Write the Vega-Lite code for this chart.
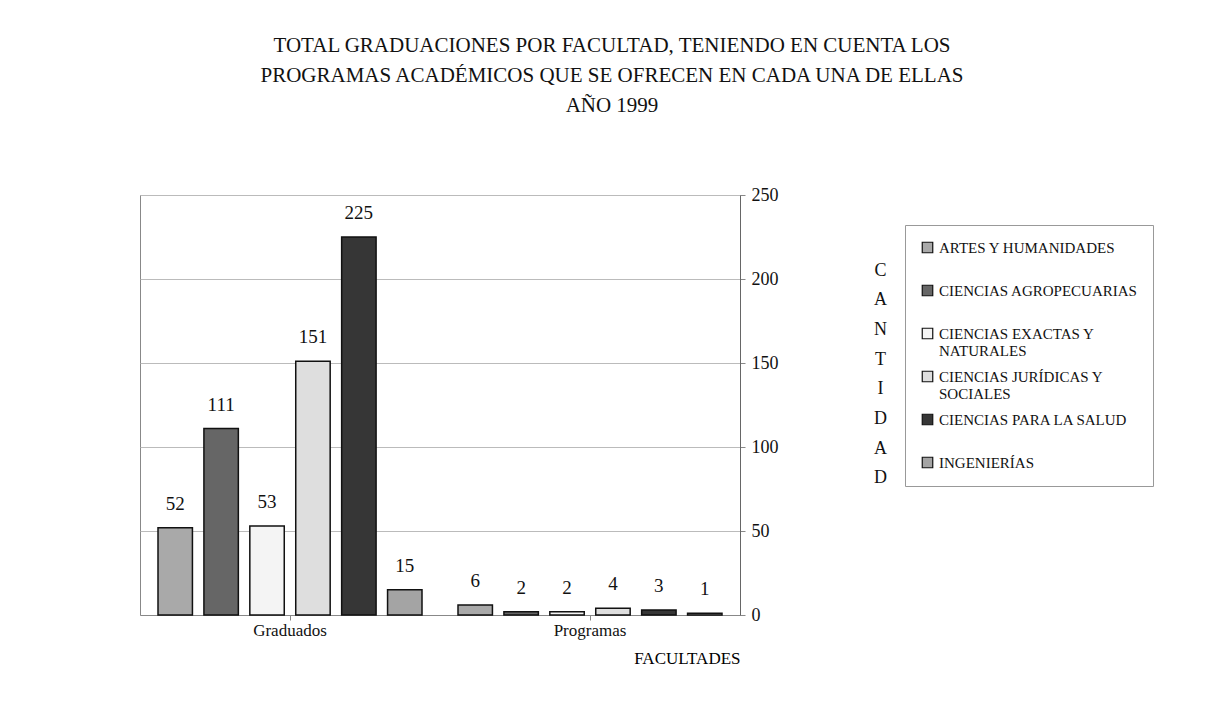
{
  "$schema": "https://vega.github.io/schema/vega-lite/v6.json",
  "autosize": "none",
  "width": 600,
  "height": 420,
  "padding": {"left": 140, "top": 195, "right": 469, "bottom": 93},
  "background": "white",
  "config": {
    "font": "Liberation Serif",
    "view": {"stroke": "#888", "strokeWidth": 1}
  },
  "title": {
    "text": ["TOTAL GRADUACIONES POR FACULTAD, TENIENDO EN CUENTA LOS", "PROGRAMAS ACADÉMICOS QUE SE OFRECEN EN CADA UNA DE ELLAS", "AÑO 1999"],
    "font": "Liberation Serif",
    "fontSize": 21,
    "fontWeight": "normal",
    "lineHeight": 30,
    "offset": 70,
    "dx": 172,
    "color": "#111"
  },
  "data": {
    "values": [
      {"Facultad": "ARTES Y HUMANIDADES", "Serie": "Graduados", "Cantidad": 52},
      {"Facultad": "CIENCIAS AGROPECUARIAS", "Serie": "Graduados", "Cantidad": 111},
      {"Facultad": "CIENCIAS EXACTAS Y NATURALES", "Serie": "Graduados", "Cantidad": 53},
      {"Facultad": "CIENCIAS JURÍDICAS Y SOCIALES", "Serie": "Graduados", "Cantidad": 151},
      {"Facultad": "CIENCIAS PARA LA SALUD", "Serie": "Graduados", "Cantidad": 225},
      {"Facultad": "INGENIERÍAS", "Serie": "Graduados", "Cantidad": 15},
      {"Facultad": "ARTES Y HUMANIDADES", "Serie": "Programas", "Cantidad": 6},
      {"Facultad": "CIENCIAS AGROPECUARIAS", "Serie": "Programas", "Cantidad": 2},
      {"Facultad": "CIENCIAS EXACTAS Y NATURALES", "Serie": "Programas", "Cantidad": 2},
      {"Facultad": "CIENCIAS JURÍDICAS Y SOCIALES", "Serie": "Programas", "Cantidad": 4},
      {"Facultad": "CIENCIAS PARA LA SALUD", "Serie": "Programas", "Cantidad": 3},
      {"Facultad": "INGENIERÍAS", "Serie": "Programas", "Cantidad": 1}
    ]
  },
  "encoding": {
    "x": {
      "field": "Serie",
      "type": "nominal",
      "sort": ["Graduados", "Programas"],
      "scale": {"paddingInner": 0.12, "paddingOuter": 0.06},
      "axis": {
        "title": "FACULTADES",
        "titleFont": "Liberation Serif",
        "titleFontSize": 17,
        "titleFontWeight": "normal",
        "titleAnchor": "end",
        "titlePadding": 12,
        "labelAngle": 0,
        "labelFont": "Liberation Serif",
        "labelFontSize": 17,
        "labelColor": "#111",
        "domainColor": "#888",
        "tickColor": "#888"
      }
    },
    "xOffset": {
      "field": "Facultad",
      "type": "nominal",
      "sort": ["ARTES Y HUMANIDADES", "CIENCIAS AGROPECUARIAS", "CIENCIAS EXACTAS Y NATURALES", "CIENCIAS JURÍDICAS Y SOCIALES", "CIENCIAS PARA LA SALUD", "INGENIERÍAS"],
      "scale": {"paddingInner": 0.25}
    },
    "y": {
      "field": "Cantidad",
      "type": "quantitative",
      "scale": {"domain": [0, 250]},
      "axis": {
        "orient": "right",
        "values": [0, 50, 100, 150, 200, 250],
        "grid": true,
        "gridColor": "#bbb",
        "domainColor": "#666",
        "tickColor": "#888",
        "labelFont": "Liberation Serif",
        "labelFontSize": 18,
        "labelColor": "#111",
        "labelPadding": 6,
        "title": ["C", "A", "N", "T", "I", "D", "A", "D"],
        "titleAngle": 0,
        "titleFont": "Liberation Serif",
        "titleFontSize": 18,
        "titleFontWeight": "normal",
        "titleLineHeight": 29.7,
        "titleAlign": "center",
        "titleBaseline": "middle",
        "titleX": 140,
        "titleY": 75,
        "titleColor": "#111"
      }
    }
  },
  "layer": [
    {
      "mark": {"type": "bar", "stroke": "#111", "strokeWidth": 1.5},
      "encoding": {
        "color": {
          "field": "Facultad",
          "type": "nominal",
          "sort": ["ARTES Y HUMANIDADES", "CIENCIAS AGROPECUARIAS", "CIENCIAS EXACTAS Y NATURALES", "CIENCIAS JURÍDICAS Y SOCIALES", "CIENCIAS PARA LA SALUD", "INGENIERÍAS"],
          "scale": {
            "domain": ["ARTES Y HUMANIDADES", "CIENCIAS AGROPECUARIAS", "CIENCIAS EXACTAS Y NATURALES", "CIENCIAS JURÍDICAS Y SOCIALES", "CIENCIAS PARA LA SALUD", "INGENIERÍAS"],
            "range": ["#a9a9a9", "#666666", "#f4f4f4", "#dedede", "#363636", "#a4a4a4"]
          },
          "legend": {
            "title": null,
            "orient": "none",
            "legendX": 765,
            "legendY": 30,
            "direction": "vertical",
            "gridAlign": "all",
            "symbolType": "square",
            "symbolSize": 110,
            "symbolStrokeColor": "#111",
            "symbolStrokeWidth": 1.2,
            "labelFont": "Liberation Serif",
            "labelFontSize": 15,
            "labelLineHeight": 17,
            "labelColor": "#111",
            "labelLimit": 300,
            "labelExpr": "datum.label == 'CIENCIAS EXACTAS Y NATURALES' ? ['CIENCIAS EXACTAS Y', 'NATURALES'] : datum.label == 'CIENCIAS JURÍDICAS Y SOCIALES' ? ['CIENCIAS JURÍDICAS Y', 'SOCIALES'] : datum.label",
            "rowPadding": 9,
            "padding": 15,
            "strokeColor": "#999",
            "fillColor": "white"
          }
        }
      }
    },
    {
      "mark": {"type": "text", "baseline": "bottom", "dy": -14, "font": "Liberation Serif", "fontSize": 19, "color": "#111"},
      "encoding": {
        "text": {"field": "Cantidad", "type": "quantitative"}
      }
    }
  ]
}
